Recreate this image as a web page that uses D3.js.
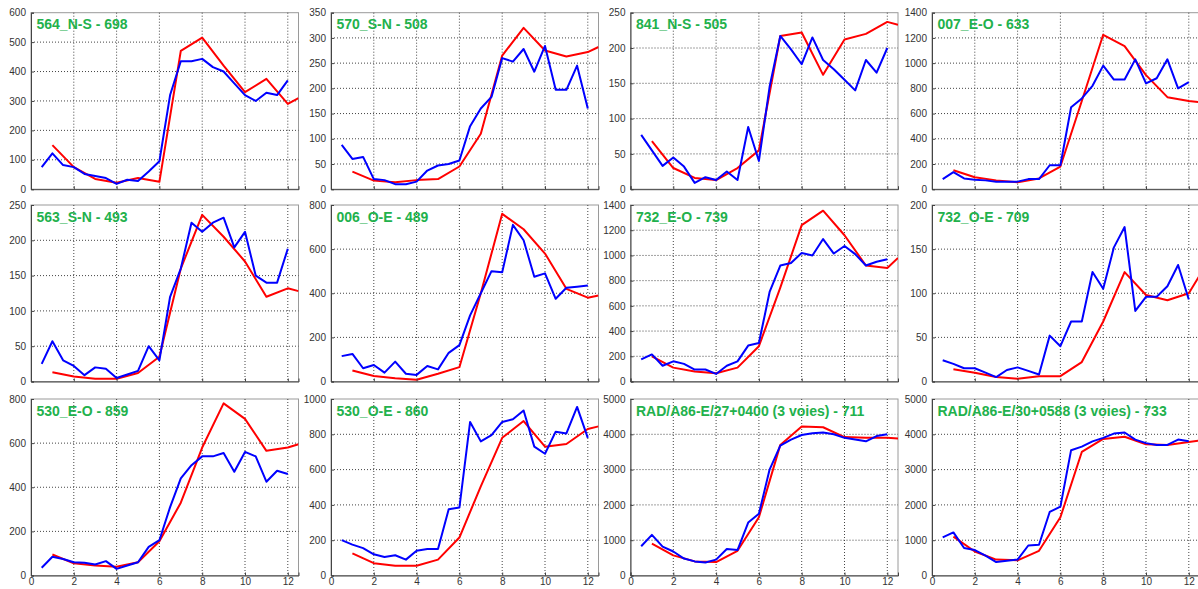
<!DOCTYPE html>
<html><head><meta charset="utf-8">
<script src="https://cdn.jsdelivr.net/npm/d3@7"></script>
<style>
html,body{margin:0;padding:0;background:#fff;}
svg{display:block;}
.tick text{font-family:"Liberation Sans",Arial,sans-serif;font-size:10px;fill:#333;}
</style></head>
<body>
<svg id="c" width="1198" height="589"></svg>
<script>
const panelTitles = ["564_N-S - 698","570_S-N - 508","841_N-S - 505","007_E-O - 633",
  "563_S-N - 493","006_O-E - 489","732_E-O - 739","732_O-E - 709",
  "530_E-O - 859","530_O-E - 860","RAD/A86-E/27+0400 (3 voies) - 711","RAD/A86-E/30+0588 (3 voies) - 733"];
const yMax  = [600,350,250,1400,250,800,1400,200,800,1000,5000,5000];
const yStep = [100,50,50,200,50,200,200,50,200,200,1000,1000];
const xTicks = [0,2,4,6,8,10,12];
const blueHours = [0.5,1,1.5,2,2.5,3,3.5,4,4.5,5,5.5,6,6.5,7,7.5,8,8.5,9,9.5,10,10.5,11,11.5,12];
const redHours  = [1,2,3,4,5,6,7,8,9,10,11,12,12.5];

const blueSeries = [
 [75,122,82,75,52,45,38,18,32,28,60,95,320,435,435,443,415,400,360,320,300,328,320,370],
 [88,60,64,20,18,10,10,15,37,47,50,57,125,160,183,260,253,278,233,284,197,197,245,160],
 [77,55,33,45,32,9,17,13,25,13,88,40,145,217,198,177,215,183,170,155,140,183,165,200],
 [80,135,85,75,70,60,60,60,80,80,190,190,650,720,820,980,870,870,1030,840,880,1030,800,850],
 [25,57,30,22,9,20,18,5,10,15,50,30,120,160,225,212,225,232,190,212,150,140,140,188],
 [115,125,60,75,40,90,35,30,70,55,130,165,300,400,500,495,710,640,475,490,375,425,430,435],
 [175,215,125,160,140,95,95,60,125,160,285,305,710,920,940,1020,1000,1130,1015,1075,1010,920,950,970],
 [24,20,15,15,10,5,13,16,12,8,52,40,68,68,124,105,152,175,80,96,96,108,132,93],
 [35,85,75,60,58,50,65,30,45,60,130,160,310,440,500,540,540,555,470,560,540,425,475,460],
 [200,175,155,120,105,115,90,140,150,150,375,385,870,760,795,870,885,935,730,690,815,805,955,780],
 [830,1150,820,680,480,400,370,450,750,720,1500,1750,3000,3680,3850,3980,4030,4050,4000,3900,3850,3800,3950,4000],
 [1080,1220,780,720,560,380,420,450,850,870,1800,1950,3550,3650,3800,3900,4020,4050,3850,3750,3700,3700,3850,3800]
];
const redSeries = [
 [150,75,35,22,38,25,470,515,420,330,375,290,310],
 [35,17,14,18,20,45,110,265,320,275,263,272,282],
 [68,30,16,13,30,55,217,222,162,212,220,237,233],
 [150,95,70,55,85,180,700,1225,1135,905,730,700,690],
 [13,7,4,4,12,35,160,236,205,170,120,132,128],
 [50,25,15,8,35,65,400,760,690,580,420,380,390],
 [200,110,80,65,110,280,745,1240,1355,1160,920,900,980],
 [14,10,5,3,6,6,22,68,124,98,92,100,120],
 [95,55,45,40,60,155,330,580,780,710,565,580,595],
 [125,70,55,55,90,215,505,780,875,730,745,830,845],
 [900,570,400,380,700,1650,3700,4220,4200,3920,3900,3900,3880],
 [1100,680,450,430,700,1650,3500,3870,3930,3720,3700,3780,3820]
];

const colLeft = [31, 331, 630.5, 932];
const rowTop = [12.7, 205, 399];
const plotW = 267.5, plotH = 176.5;
const svg = d3.select("#c");

panelTitles.forEach((title, i) => {
  const r = Math.floor(i / 4), c = i % 4;
  const g = svg.append("g").attr("transform", `translate(${colLeft[c]},${rowTop[r]})`);
  const x = d3.scaleLinear().domain([0, 12.5]).range([0, plotW]);
  const y = d3.scaleLinear().domain([0, yMax[i]]).range([plotH, 0]);
  const yT = d3.range(0, yMax[i] + 1e-9, yStep[i]);

  g.append("rect").attr("width", plotW).attr("height", plotH).attr("fill", "#fff")
    .attr("stroke", "#9a9a9a").attr("stroke-width", 1);

  // grid
  g.append("g").selectAll("line").data(xTicks.filter(t => t > 0)).join("line")
    .attr("x1", d => x(d)).attr("x2", d => x(d)).attr("y1", 0).attr("y2", plotH)
    .attr("stroke", "#444").attr("stroke-width", 1).attr("stroke-dasharray", "1,2");
  g.append("g").selectAll("line").data(yT.filter(t => t > 0 && t < yMax[i])).join("line")
    .attr("x1", 0).attr("x2", plotW).attr("y1", d => y(d)).attr("y2", d => y(d))
    .attr("stroke", "#444").attr("stroke-width", 1).attr("stroke-dasharray", "1,2");

  const clipId = "clip" + i;
  g.append("clipPath").attr("id", clipId).append("rect").attr("width", plotW).attr("height", plotH);

  const line = d3.line().x(d => x(d[0])).y(d => y(d[1]));
  const pg = g.append("g").attr("clip-path", `url(#${clipId})`);
  pg.append("path").datum(redHours.map((h, k) => [h, redSeries[i][k]]))
    .attr("d", line).attr("fill", "none").attr("stroke", "#ff0000").attr("stroke-width", 2).attr("stroke-linejoin", "round");
  pg.append("path").datum(blueHours.map((h, k) => [h, blueSeries[i][k]]))
    .attr("d", line).attr("fill", "none").attr("stroke", "#0000ff").attr("stroke-width", 2).attr("stroke-linejoin", "round");

  // axes
  const ya = g.append("g").call(d3.axisLeft(y).tickValues(yT).tickSize(-3).tickPadding(5).tickFormat(d3.format("d")));
  ya.select(".domain").attr("stroke", "#444");
  ya.selectAll(".tick line").attr("stroke", "#444");
  const xa = g.append("g").attr("transform", `translate(0,${plotH})`)
    .call(d3.axisBottom(x).tickValues(xTicks).tickSize(-3).tickPadding(3).tickFormat(r === 2 ? d3.format("d") : () => ""));
  xa.select(".domain").attr("stroke", "#444");
  xa.selectAll(".tick line").attr("stroke", "#444");
  xa.selectAll(".tick text").attr("dy", "0.65em");

  g.append("text").attr("x", 5.5).attr("y", 16.6).text(title)
    .attr("font-family", "'Liberation Sans',Arial,sans-serif").attr("font-size", "14px").attr("font-weight", "bold")
    .attr("fill", "#22b14c");
});
</script>
</body></html>
